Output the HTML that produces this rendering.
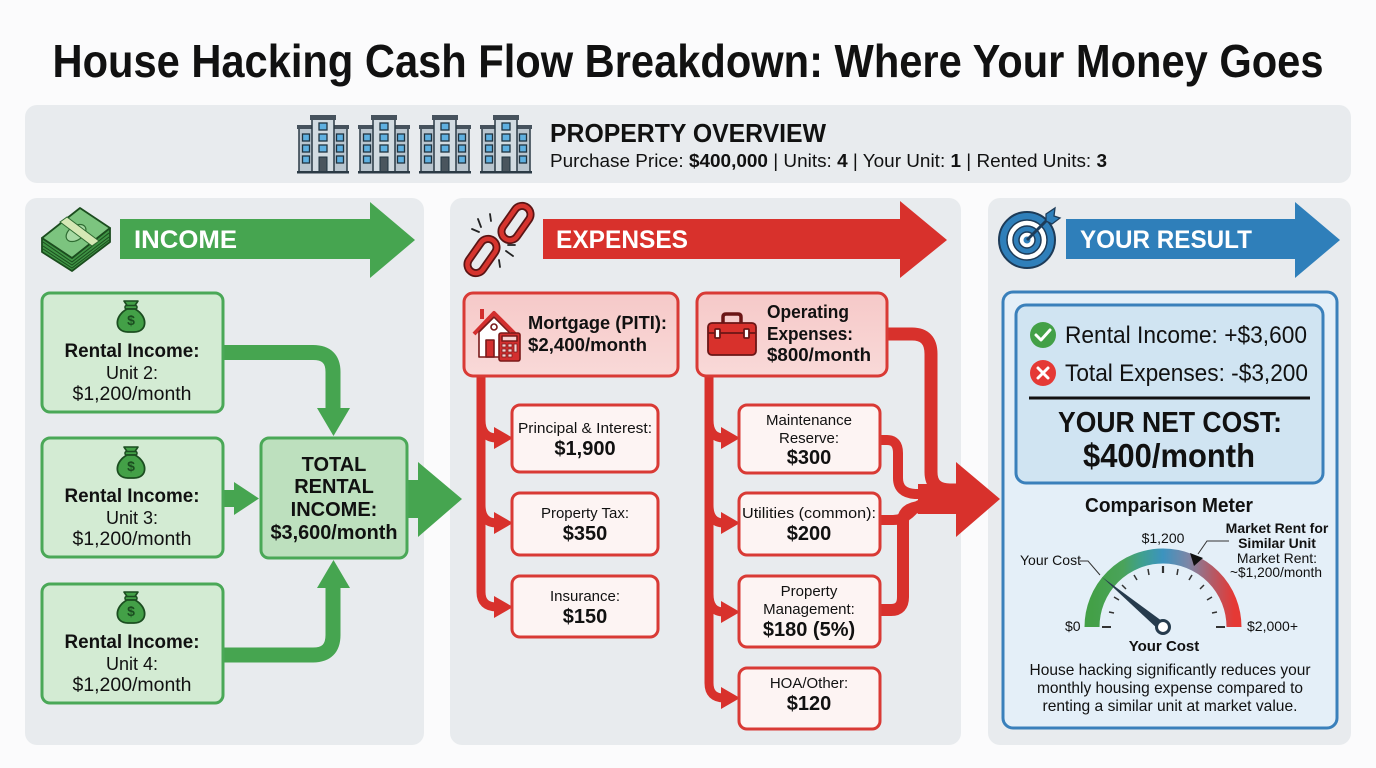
<!DOCTYPE html>
<html><head><meta charset="utf-8"><style>
html,body{margin:0;padding:0;background:#fbfbfc;}
svg{display:block;font-family:"Liberation Sans",Arial,sans-serif;}
</style></head><body>
<svg width="1376" height="768" viewBox="0 0 1376 768" xmlns="http://www.w3.org/2000/svg">
<defs>
<linearGradient id="gg" x1="1092" y1="0" x2="1234" y2="0" gradientUnits="userSpaceOnUse">
<stop offset="0" stop-color="#43a047"/><stop offset="0.22" stop-color="#4aa35a"/><stop offset="0.35" stop-color="#3fa08f"/><stop offset="0.5" stop-color="#3c93bf"/><stop offset="0.68" stop-color="#7d86a6"/><stop offset="0.85" stop-color="#b45a66"/><stop offset="1" stop-color="#e53935"/>
</linearGradient>
<linearGradient id="redbox" x1="0" y1="0" x2="0" y2="1"><stop offset="0" stop-color="#f6c9c8"/><stop offset="1" stop-color="#f9d9d8"/></linearGradient>
<g id="bld">
<rect x="2" y="12" width="16" height="45" fill="#b9c5ce" stroke="#2b3a45" stroke-width="1.5"/>
<rect x="0" y="10" width="19" height="4" fill="#46525d"/>
<rect x="34" y="12" width="16" height="45" fill="#b9c5ce" stroke="#2b3a45" stroke-width="1.5"/>
<rect x="33" y="10" width="19" height="4" fill="#46525d"/>
<rect x="15" y="4" width="22" height="53" fill="#d2dbe1" stroke="#2b3a45" stroke-width="1.5"/>
<rect x="13" y="0" width="26" height="5" fill="#46525d"/>
<g fill="#5fb0e0" stroke="#1f3340" stroke-width="1.3">
<rect x="5.5" y="19" width="7" height="7"/><rect x="5.5" y="30" width="7" height="7"/><rect x="5.5" y="41" width="7" height="7"/>
<rect x="39.5" y="19" width="7" height="7"/><rect x="39.5" y="30" width="7" height="7"/><rect x="39.5" y="41" width="7" height="7"/>
<rect x="22" y="8" width="8" height="7"/><rect x="22" y="19" width="8" height="7"/><rect x="22" y="30" width="8" height="7"/>
</g>
<rect x="22" y="42" width="8" height="15" fill="#4a555e" stroke="#1f3340" stroke-width="1"/>
<rect x="0" y="56" width="52" height="2.5" fill="#2b3a45"/>
</g>
<g id="bag">
<path d="M-7,-16 L7,-16 L3,-10 L-3,-10 Z" fill="#43a047" stroke="#1b4d20" stroke-width="1.6" stroke-linejoin="round"/>
<rect x="-6" y="-11.5" width="12" height="3.5" rx="1.5" fill="#43a047" stroke="#1b4d20" stroke-width="1.5"/>
<path d="M-4,-8 C-17,-1 -17,15 -3,15 L3,15 C17,15 17,-1 4,-8 Z" fill="#43a047" stroke="#1b4d20" stroke-width="1.8"/>
<text x="0" y="8" font-size="14" font-weight="bold" fill="#1b4d20" text-anchor="middle">$</text>
</g>
</defs>

<!-- Title -->
<text x="688" y="77" font-size="46" font-weight="bold" fill="#111" text-anchor="middle" textLength="1271" lengthAdjust="spacingAndGlyphs">House Hacking Cash Flow Breakdown: Where Your Money Goes</text>

<!-- Overview panel -->
<rect x="25" y="105" width="1326" height="78" rx="12" fill="#e8ebee"/>
<use href="#bld" x="297" y="115"/><use href="#bld" x="358" y="115"/><use href="#bld" x="419" y="115"/><use href="#bld" x="480" y="115"/>
<text x="550" y="142" font-size="26" font-weight="bold" fill="#111" textLength="276" lengthAdjust="spacingAndGlyphs">PROPERTY OVERVIEW</text>
<text x="550" y="167" font-size="18" fill="#111" textLength="557" lengthAdjust="spacingAndGlyphs">Purchase Price: <tspan font-weight="bold">$400,000</tspan> |  Units: <tspan font-weight="bold">4</tspan> |  Your Unit: <tspan font-weight="bold">1</tspan> |  Rented Units: <tspan font-weight="bold">3</tspan></text>

<!-- Panels -->
<rect x="25" y="198" width="399" height="547" rx="12" fill="#e8ebee"/>
<rect x="450" y="198" width="511" height="547" rx="12" fill="#e8ebee"/>
<rect x="988" y="198" width="363" height="547" rx="12" fill="#e8ebee"/>

<!-- INCOME header -->
<g>
<path d="M42,252 L72,271 L110,242 L110,228 L72,258 L42,238 Z" fill="#3f9444" stroke="#1b4d1e" stroke-width="1.8" stroke-linejoin="round"/>
<path d="M43,242 L72,262 L109,233 M43,246 L72,265 L109,237 M43,249 L72,268 L109,240" fill="none" stroke="#1b4d1e" stroke-width="1"/>
<path d="M42,238 L80,208 L110,228 L72,258 Z" fill="#7cc47f" stroke="#1b4d1e" stroke-width="1.8" stroke-linejoin="round"/>
<ellipse cx="76" cy="233" rx="11" ry="7" transform="rotate(-35 76 233)" fill="#a6d9a3" stroke="#2e6b31" stroke-width="1.2"/>
<path d="M60,222 L92,246 L99,241 L67,217 Z" fill="#d5e8b5" stroke="#2e6b31" stroke-width="1"/>
</g>
<path d="M120,219 H370 V202 L415,240 L370,278 V259 H120 Z" fill="#46a550"/>
<text x="134" y="248" font-size="25" font-weight="bold" fill="#fff" textLength="103" lengthAdjust="spacingAndGlyphs">INCOME</text>

<!-- EXPENSES header -->
<g fill="none" stroke-linecap="round">
<g transform="rotate(-55 516 223)"><rect x="497" y="214.5" width="38" height="17" rx="8.5" stroke="#5a1414" stroke-width="8"/><rect x="497" y="214.5" width="38" height="17" rx="8.5" stroke="#d6342e" stroke-width="4.5"/></g>
<g transform="rotate(-55 482 256)"><rect x="463" y="247.5" width="38" height="17" rx="8.5" stroke="#5a1414" stroke-width="8"/><rect x="463" y="247.5" width="38" height="17" rx="8.5" stroke="#d6342e" stroke-width="4.5"/></g>
<path d="M478,219 L481,227 M472,229 L479,232 M490,214 L491,221 M506,251 L513,256 M499,260 L500,267 M508,245 L515,245" stroke="#222" stroke-width="1.8"/>
</g>
<path d="M543,219 H900 V201 L947,240 L900,278 V259 H543 Z" fill="#d8312c"/>
<text x="556" y="248" font-size="25" font-weight="bold" fill="#fff" textLength="132" lengthAdjust="spacingAndGlyphs">EXPENSES</text>

<!-- RESULT header -->
<g>
<circle cx="1027" cy="240" r="28" fill="#2f7fba" stroke="#1d3b58" stroke-width="2"/>
<circle cx="1027" cy="240" r="20" fill="#fff" stroke="#1d3b58" stroke-width="1.5"/>
<circle cx="1027" cy="240" r="14" fill="#2f7fba" stroke="#1d3b58" stroke-width="1.5"/>
<circle cx="1027" cy="240" r="8" fill="#fff" stroke="#1d3b58" stroke-width="1.5"/>
<circle cx="1027" cy="240" r="3.5" fill="#2f7fba"/>
<path d="M1027,240 L1050,217" stroke="#1d3b58" stroke-width="3"/>
<path d="M1046,214 L1055,208 L1054,216 L1060,218 L1052,224 L1046,221 Z" fill="#2f7fba" stroke="#1d3b58" stroke-width="1.3"/>
</g>
<path d="M1066,219 H1295 V202 L1340,240 L1295,278 V259 H1066 Z" fill="#2f7fba"/>
<text x="1080" y="248" font-size="25" font-weight="bold" fill="#fff" textLength="172" lengthAdjust="spacingAndGlyphs">YOUR RESULT</text>

<!-- Income connectors -->
<g fill="none" stroke="#46a550" stroke-linejoin="round">
<path d="M222,352.5 H313 Q333,352.5 333,372 V410" stroke-width="15"/>
<path d="M222,655 H313 Q333,655 333,635 V586" stroke-width="15"/>
</g>
<g fill="#46a550">
<polygon points="317,408 350,408 333.5,436"/>
<polygon points="317,588 350,588 333.5,560"/>
<path d="M222,490 H234 V482 L259,498.5 L234,515 V507 H222 Z"/>
<path d="M406,480 H418 V462 L462,499 L418,537 V518 H406 Z"/>
</g>

<!-- Income boxes -->
<g stroke="#4aa857" stroke-width="3" fill="#d3ebd3">
<rect x="42" y="293" width="181" height="119" rx="8"/>
<rect x="42" y="438" width="181" height="119" rx="8"/>
<rect x="42" y="584" width="181" height="119" rx="8"/>
<rect x="261" y="438" width="146" height="120" rx="8" fill="#bde0be"/>
</g>
<use href="#bag" x="131" y="317"/><use href="#bag" x="131" y="463"/><use href="#bag" x="131" y="608"/>
<g fill="#111" text-anchor="middle">
<text x="132" y="357" font-size="19" font-weight="bold" textLength="135" lengthAdjust="spacingAndGlyphs">Rental Income:</text>
<text x="132" y="379" font-size="18">Unit 2:</text>
<text x="132" y="400" font-size="19" textLength="119" lengthAdjust="spacingAndGlyphs">$1,200/month</text>
<text x="132" y="502" font-size="19" font-weight="bold" textLength="135" lengthAdjust="spacingAndGlyphs">Rental Income:</text>
<text x="132" y="524" font-size="18">Unit 3:</text>
<text x="132" y="545" font-size="19" textLength="119" lengthAdjust="spacingAndGlyphs">$1,200/month</text>
<text x="132" y="648" font-size="19" font-weight="bold" textLength="135" lengthAdjust="spacingAndGlyphs">Rental Income:</text>
<text x="132" y="670" font-size="18">Unit 4:</text>
<text x="132" y="691" font-size="19" textLength="119" lengthAdjust="spacingAndGlyphs">$1,200/month</text>
<g font-weight="bold" font-size="20">
<text x="334" y="471">TOTAL</text>
<text x="334" y="493">RENTAL</text>
<text x="334" y="516">INCOME:</text>
<text x="334" y="539" textLength="127" lengthAdjust="spacingAndGlyphs">$3,600/month</text>
</g>
</g>

<!-- Expense connectors (trees) -->
<g fill="none" stroke="#d8312c" stroke-width="9" stroke-linejoin="round">
<path d="M481,376 V592 Q481,607 497,607"/>
<path d="M481,420 Q481,438 497,438"/>
<path d="M481,505 Q481,523 497,523"/>
<path d="M709,376 V683 Q709,698 724,698"/>
<path d="M709,420 Q709,438 724,438"/>
<path d="M709,505 Q709,523 724,523"/>
<path d="M709,594 Q709,612 724,612"/>
</g>
<g fill="#d8312c">
<polygon points="494,427 513,438 494,449"/>
<polygon points="494,512 513,523 494,534"/>
<polygon points="494,596 513,607 494,618"/>
<polygon points="721,427 740,438 721,449"/>
<polygon points="721,512 740,523 721,534"/>
<polygon points="721,601 740,612 721,623"/>
<polygon points="721,687 740,698 721,709"/>
</g>
<!-- merge connectors -->
<g fill="none" stroke="#d8312c" stroke-linejoin="round">
<path d="M886,334 H912 Q931,334 931,354 V472 Q931,490 950,490 H960" stroke-width="13"/>
<path d="M879,440 H887 Q898,440 898,453 V478 Q898,493 915,494 H960" stroke-width="10"/>
<path d="M879,520 H893 Q905,520 915,508 Q920,503 930,503 H960" stroke-width="10"/>
<path d="M879,610 H891 Q903,610 903,597 V522 Q903,508 920,507 H960" stroke-width="12"/>
</g>
<path d="M918,484 H956 V462 L1000,499 L956,537 V514 H918 Z" fill="#d8312c"/>

<!-- Expense parent boxes -->
<g stroke="#d93a35" stroke-width="3" fill="url(#redbox)">
<rect x="464" y="293" width="214" height="83" rx="9"/>
<rect x="697" y="293" width="190" height="83" rx="9"/>
</g>
<!-- house icon -->
<g stroke="#7a1a1a" stroke-width="1.6" stroke-linejoin="round">
<path d="M474,334 L494,313 L515,334" fill="none" stroke="#d32f2f" stroke-width="4"/>
<rect x="480" y="309" width="4" height="10" fill="#d32f2f" stroke="none"/>
<path d="M479,332 L494,317 L509,332 V357 H479 Z" fill="#fff"/>
<rect x="486" y="340" width="8" height="17" fill="#d32f2f"/>
<circle cx="494" cy="327" r="3" fill="#fff" stroke="#7a1a1a"/>
<rect x="499" y="333" width="21" height="28" rx="2" fill="#d32f2f"/>
<rect x="502" y="336" width="15" height="5" fill="#f6d3d3"/>
<g fill="#f6d3d3" stroke-width="0.8"><rect x="502" y="344" width="4" height="3"/><rect x="508" y="344" width="4" height="3"/><rect x="514" y="344" width="3" height="8"/><rect x="502" y="349" width="4" height="3"/><rect x="508" y="349" width="4" height="3"/><rect x="502" y="354" width="4" height="3"/><rect x="508" y="354" width="4" height="3"/></g>
</g>
<!-- toolbox icon -->
<g stroke="#6b1616" stroke-width="1.8" stroke-linejoin="round">
<path d="M723,325 V317 Q723,314 726,314 H738 Q741,314 741,317 V325" fill="none" stroke-width="3.5"/>
<rect x="708" y="323" width="48" height="32" rx="4" fill="#d8312c"/>
<line x1="708" y1="333" x2="756" y2="333"/>
<rect x="715" y="329" width="5" height="9" rx="1" fill="#fff"/>
<rect x="744" y="329" width="5" height="9" rx="1" fill="#fff"/>
</g>
<g fill="#111" font-weight="bold" font-size="18">
<text x="528" y="329" textLength="139" lengthAdjust="spacingAndGlyphs">Mortgage (PITI):</text>
<text x="528" y="351" textLength="119" lengthAdjust="spacingAndGlyphs">$2,400/month</text>
<text x="767" y="318" textLength="82" lengthAdjust="spacingAndGlyphs">Operating</text>
<text x="767" y="340" textLength="86" lengthAdjust="spacingAndGlyphs">Expenses:</text>
<text x="767" y="361" textLength="104" lengthAdjust="spacingAndGlyphs">$800/month</text>
</g>

<!-- Expense child boxes -->
<g stroke="#d93a35" stroke-width="3" fill="#fdf4f3">
<rect x="512" y="405" width="146" height="67" rx="8"/>
<rect x="512" y="493" width="146" height="62" rx="8"/>
<rect x="512" y="576" width="146" height="61" rx="8"/>
<rect x="739" y="405" width="141" height="68" rx="8"/>
<rect x="739" y="493" width="141" height="62" rx="8"/>
<rect x="739" y="576" width="141" height="71" rx="8"/>
<rect x="739" y="668" width="141" height="61" rx="8"/>
</g>
<g fill="#111" text-anchor="middle">
<text x="585" y="433" font-size="15" textLength="134" lengthAdjust="spacingAndGlyphs">Principal &amp; Interest:</text>
<text x="585" y="455" font-size="20" font-weight="bold">$1,900</text>
<text x="585" y="518" font-size="15">Property Tax:</text>
<text x="585" y="540" font-size="20" font-weight="bold">$350</text>
<text x="585" y="601" font-size="15">Insurance:</text>
<text x="585" y="623" font-size="20" font-weight="bold">$150</text>
<text x="809" y="425" font-size="15">Maintenance</text>
<text x="809" y="443" font-size="15">Reserve:</text>
<text x="809" y="464" font-size="20" font-weight="bold">$300</text>
<text x="809" y="518" font-size="15" textLength="134" lengthAdjust="spacingAndGlyphs">Utilities (common):</text>
<text x="809" y="540" font-size="20" font-weight="bold">$200</text>
<text x="809" y="596" font-size="15">Property</text>
<text x="809" y="614" font-size="15">Management:</text>
<text x="809" y="636" font-size="20" font-weight="bold">$180 (5%)</text>
<text x="809" y="688" font-size="15">HOA/Other:</text>
<text x="809" y="710" font-size="20" font-weight="bold">$120</text>
</g>

<!-- Result boxes -->
<rect x="1003" y="292" width="334" height="436" rx="10" fill="#e4eff8" stroke="#3a80bb" stroke-width="3"/>
<rect x="1016" y="305" width="307" height="178" rx="10" fill="#d0e4f2" stroke="#3a80bb" stroke-width="3"/>
<circle cx="1043" cy="335" r="13" fill="#43a047"/>
<path d="M1036,335 L1041,340 L1050,330" fill="none" stroke="#fff" stroke-width="3" stroke-linecap="round" stroke-linejoin="round"/>
<circle cx="1043" cy="373" r="13" fill="#e53935"/>
<path d="M1038,368 L1048,378 M1048,368 L1038,378" stroke="#fff" stroke-width="3" stroke-linecap="round"/>
<g fill="#111">
<text x="1065" y="343" font-size="24" textLength="242" lengthAdjust="spacingAndGlyphs">Rental Income: +$3,600</text>
<text x="1065" y="381" font-size="24" textLength="243" lengthAdjust="spacingAndGlyphs">Total Expenses: -$3,200</text>
</g>
<line x1="1029" y1="398" x2="1310" y2="398" stroke="#111" stroke-width="3"/>
<g fill="#111" font-weight="bold" text-anchor="middle">
<text x="1170" y="432" font-size="29" textLength="224" lengthAdjust="spacingAndGlyphs">YOUR NET COST:</text>
<text x="1169" y="467" font-size="33" textLength="172" lengthAdjust="spacingAndGlyphs">$400/month</text>
<text x="1169" y="512" font-size="20" textLength="168" lengthAdjust="spacingAndGlyphs">Comparison Meter</text>
</g>

<!-- Gauge -->
<path d="M1092,627 A71,71 0 0 1 1234,627" fill="none" stroke="url(#gg)" stroke-width="15"/>
<g stroke="#333" stroke-width="1.5">
<line x1="1109" y1="612" x2="1114" y2="613"/>
<line x1="1114" y1="597" x2="1119" y2="600"/>
<line x1="1122" y1="585" x2="1126" y2="589"/>
<line x1="1134" y1="575" x2="1137" y2="580"/>
<line x1="1148" y1="569" x2="1149" y2="575"/>
<line x1="1163" y1="566" x2="1163" y2="573" stroke-width="2.2"/>
<line x1="1178" y1="569" x2="1177" y2="575"/>
<line x1="1192" y1="575" x2="1189" y2="580"/>
<line x1="1204" y1="585" x2="1200" y2="589"/>
<line x1="1212" y1="597" x2="1207" y2="600"/>
<line x1="1217" y1="612" x2="1212" y2="613"/>
<line x1="1102" y1="627" x2="1111" y2="627" stroke-width="2"/>
<line x1="1216" y1="627" x2="1225" y2="627" stroke-width="2"/>
</g>
<polygon points="1166,624 1102,577 1160,631" fill="#263b4d"/>
<circle cx="1163" cy="627" r="6.5" fill="#fff" stroke="#263b4d" stroke-width="3"/>
<polygon points="1190,553 1203,558 1194,566" fill="#111"/>
<path d="M1198,554 L1207,541 H1229" fill="none" stroke="#333" stroke-width="1"/>
<path d="M1080,561 H1088 L1100,575" fill="none" stroke="#333" stroke-width="1"/>
<g fill="#111" font-size="14">
<text x="1163" y="543" text-anchor="middle">$1,200</text>
<text x="1020" y="565">Your Cost</text>
<text x="1065" y="631">$0</text>
<text x="1247" y="631">$2,000+</text>
<text x="1277" y="533" text-anchor="middle" font-weight="bold">Market Rent for</text>
<text x="1277" y="548" text-anchor="middle" font-weight="bold">Similar Unit</text>
<text x="1277" y="563" text-anchor="middle">Market Rent:</text>
<text x="1276" y="577" text-anchor="middle" textLength="92" lengthAdjust="spacingAndGlyphs">~$1,200/month</text>
<text x="1164" y="651" text-anchor="middle" font-weight="bold" font-size="15">Your Cost</text>
</g>
<g fill="#111" font-size="16" text-anchor="middle">
<text x="1170" y="675" textLength="281" lengthAdjust="spacingAndGlyphs">House hacking significantly reduces your</text>
<text x="1170" y="693" textLength="266" lengthAdjust="spacingAndGlyphs">monthly housing expense compared to</text>
<text x="1170" y="711" textLength="255" lengthAdjust="spacingAndGlyphs">renting a similar unit at market value.</text>
</g>
</svg>
</body></html>
